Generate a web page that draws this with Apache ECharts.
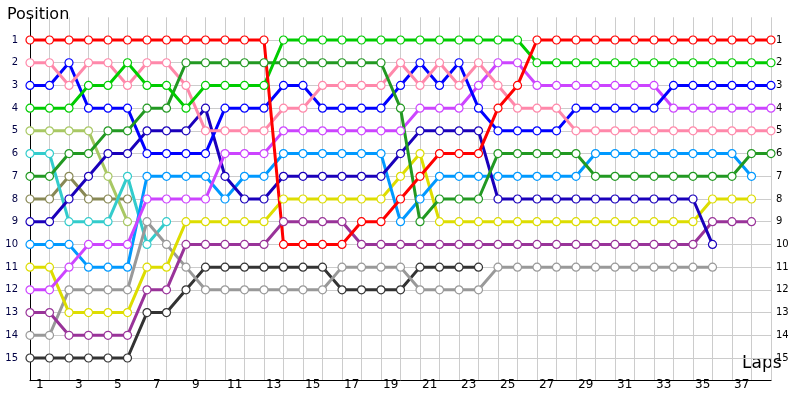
<!DOCTYPE html>
<html>
<head>
<meta charset="utf-8">
<script src="https://cdn.jsdelivr.net/npm/echarts@6/dist/echarts.min.js"></script>
<style>html,body{margin:0;padding:0;background:#fff}#chart{width:800px;height:400px}</style>
</head>
<body>
<div id="chart"></div>
<script>
// lap labels (points sit on gridlines 0..38, labels in the bands)
let lapLabels = [];
for (let i = 1; i <= 38; i++) lapLabels.push(String(i));

// positions per gridline, k = 0..38 (missing = retired/finished)
let red = [1,1,1,1,1,1,1,1,1,1,1,1,1,10,10,10,10,9,9,8,7,6,6,6,4,3,1,1,1,1,1,1,1,1,1,1,1,1,1];
let green = [4,4,4,3,3,2,3,3,4,3,3,3,3,1,1,1,1,1,1,1,1,1,1,1,1,1,2,2,2,2,2,2,2,2,2,2,2,2,2];
let darkGreen = [7,7,6,6,5,5,4,4,2,2,2,2,2,2,2,2,2,2,2,4,9,8,8,8,6,6,6,6,6,7,7,7,7,7,7,7,7,6,6];
let pink = [2,2,3,2,2,3,2,2,3,5,5,5,5,4,4,3,3,3,3,2,3,2,3,2,3,4,4,4,5,5,5,5,5,5,5,5,5,5,5];
let blue = [3,3,2,4,4,4,6,6,6,6,4,4,4,3,3,4,4,4,4,3,2,3,2,4,5,5,5,5,4,4,4,4,4,3,3,3,3,3,3];
let magenta = [12,12,11,10,10,10,8,8,8,8,6,6,6,5,5,5,5,5,5,5,4,4,4,3,2,2,3,3,3,3,3,3,3,4,4,4,4,4,4];
let darkBlue = [9,9,8,7,6,6,5,5,5,4,7,8,8,7,7,7,7,7,7,6,5,5,5,5,8,8,8,8,8,8,8,8,8,8,8,10];
let skyBlue = [10,10,10,11,11,11,7,7,7,7,8,7,7,6,6,6,6,6,6,9,8,7,7,7,7,7,7,7,7,6,6,6,6,6,6,6,6,7];
let yellow = [11,11,13,13,13,13,11,11,9,9,9,9,9,8,8,8,8,8,8,7,6,9,9,9,9,9,9,9,9,9,9,9,9,9,9,8,8,8];
let purple = [13,13,14,14,14,14,12,12,10,10,10,10,10,9,9,9,9,10,10,10,10,10,10,10,10,10,10,10,10,10,10,10,10,10,10,9,9,9];
let grey = [14,14,12,12,12,12,9,10,11,12,12,12,12,12,12,12,11,11,11,11,12,12,12,12,11,11,11,11,11,11,11,11,11,11,11,11];
let black = [15,15,15,15,15,15,13,13,12,11,11,11,11,11,11,11,12,12,12,12,11,11,11,11];
let lightGreen = [5,5,5,5,7,9];
let cyan = [6,6,9,9,9,7,10,9];
let olive = [8,8,7,8,8,8];

let posLabels = [];
for (let i = 1; i <= 15; i++) posLabels.push(String(i));

let drivers = [
    { data: olive, color: '#888855' },
    { data: lightGreen, color: '#a8c864' },
    { data: cyan, color: '#33cccc' },
    { data: black, color: '#333333' },
    { data: grey, color: '#999999' },
    { data: purple, color: '#993399' },
    { data: yellow, color: '#dddd00' },
    { data: skyBlue, color: '#0099ff' },
    { data: darkBlue, color: '#1a00bb' },
    { data: magenta, color: '#cc44ff' },
    { data: blue, color: '#0000ff' },
    { data: pink, color: '#ff88aa' },
    { data: darkGreen, color: '#229922' },
    { data: green, color: '#00cc00' },
    { data: red, color: '#ff0000' }
];

// hide the 0 and 16 gridlines
let splitColors = [];
for (let i = 0; i <= 16; i++) splitColors.push(i === 0 || i === 16 ? 'rgba(0,0,0,0)' : '#cccccc');

let myChart = echarts.init(document.getElementById('chart'));
let option = {
    animation: false,
    title: {
        text: 'Position',
        left: 2, top: 2,
        textStyle: { fontFamily: 'DejaVu Sans', fontSize: 16, fontWeight: 'normal', color: '#000' }
    },
    graphic: [{
        type: 'text', left: 742, top: 355,
        style: { text: 'Laps', font: '17px "DejaVu Sans"', fill: '#000' }
    }],
    grid: { left: 30, right: 29, top: 17.3, bottom: 19.3 },
    xAxis: [
        {
            type: 'value', min: 0, max: 38, interval: 1,
            axisLine: { show: false }, axisTick: { show: false }, axisLabel: { show: false },
            splitLine: { show: true, lineStyle: { color: '#cccccc' } }
        },
        {
            type: 'category', data: lapLabels, boundaryGap: true, position: 'bottom',
            axisLine: { show: true, onZero: false, lineStyle: { color: '#000' } },
            axisTick: { show: false },
            axisLabel: { color: '#000', fontSize: 12, fontFamily: 'DejaVu Sans', margin: -2 }
        }
    ],
    yAxis: [
        {
            type: 'value', inverse: true, min: 0, max: 16, interval: 1,
            axisLine: { show: true, lineStyle: { color: '#000' } },
            axisTick: { show: false },
            axisLabel: {
                color: '#000044', fontSize: 10, fontFamily: 'DejaVu Sans', margin: 12,
                formatter: v => (v >= 1 && v <= 15 ? posLabels[v - 1] : '')
            },
            splitLine: { show: true, lineStyle: { color: splitColors } }
        },
        {
            type: 'value', inverse: true, min: 0, max: 16, interval: 1, position: 'right',
            axisLine: { show: false }, axisTick: { show: false },
            axisLabel: {
                color: '#000', fontSize: 10, fontFamily: 'DejaVu Sans', margin: 5,
                formatter: v => (v >= 1 && v <= 15 ? posLabels[v - 1] : '')
            },
            splitLine: { show: false }
        }
    ],
    series: drivers.map(d => ({
        type: 'line',
        xAxisIndex: 0, yAxisIndex: 0,
        data: d.data.map((v, k) => [k, v]),
        symbol: 'circle', symbolSize: 8,
        itemStyle: { color: '#ffffff', borderColor: d.color, borderWidth: 1.2 },
        lineStyle: { color: d.color, width: 3 }
    }))
};
myChart.setOption(option);
</script>
</body>
</html>
